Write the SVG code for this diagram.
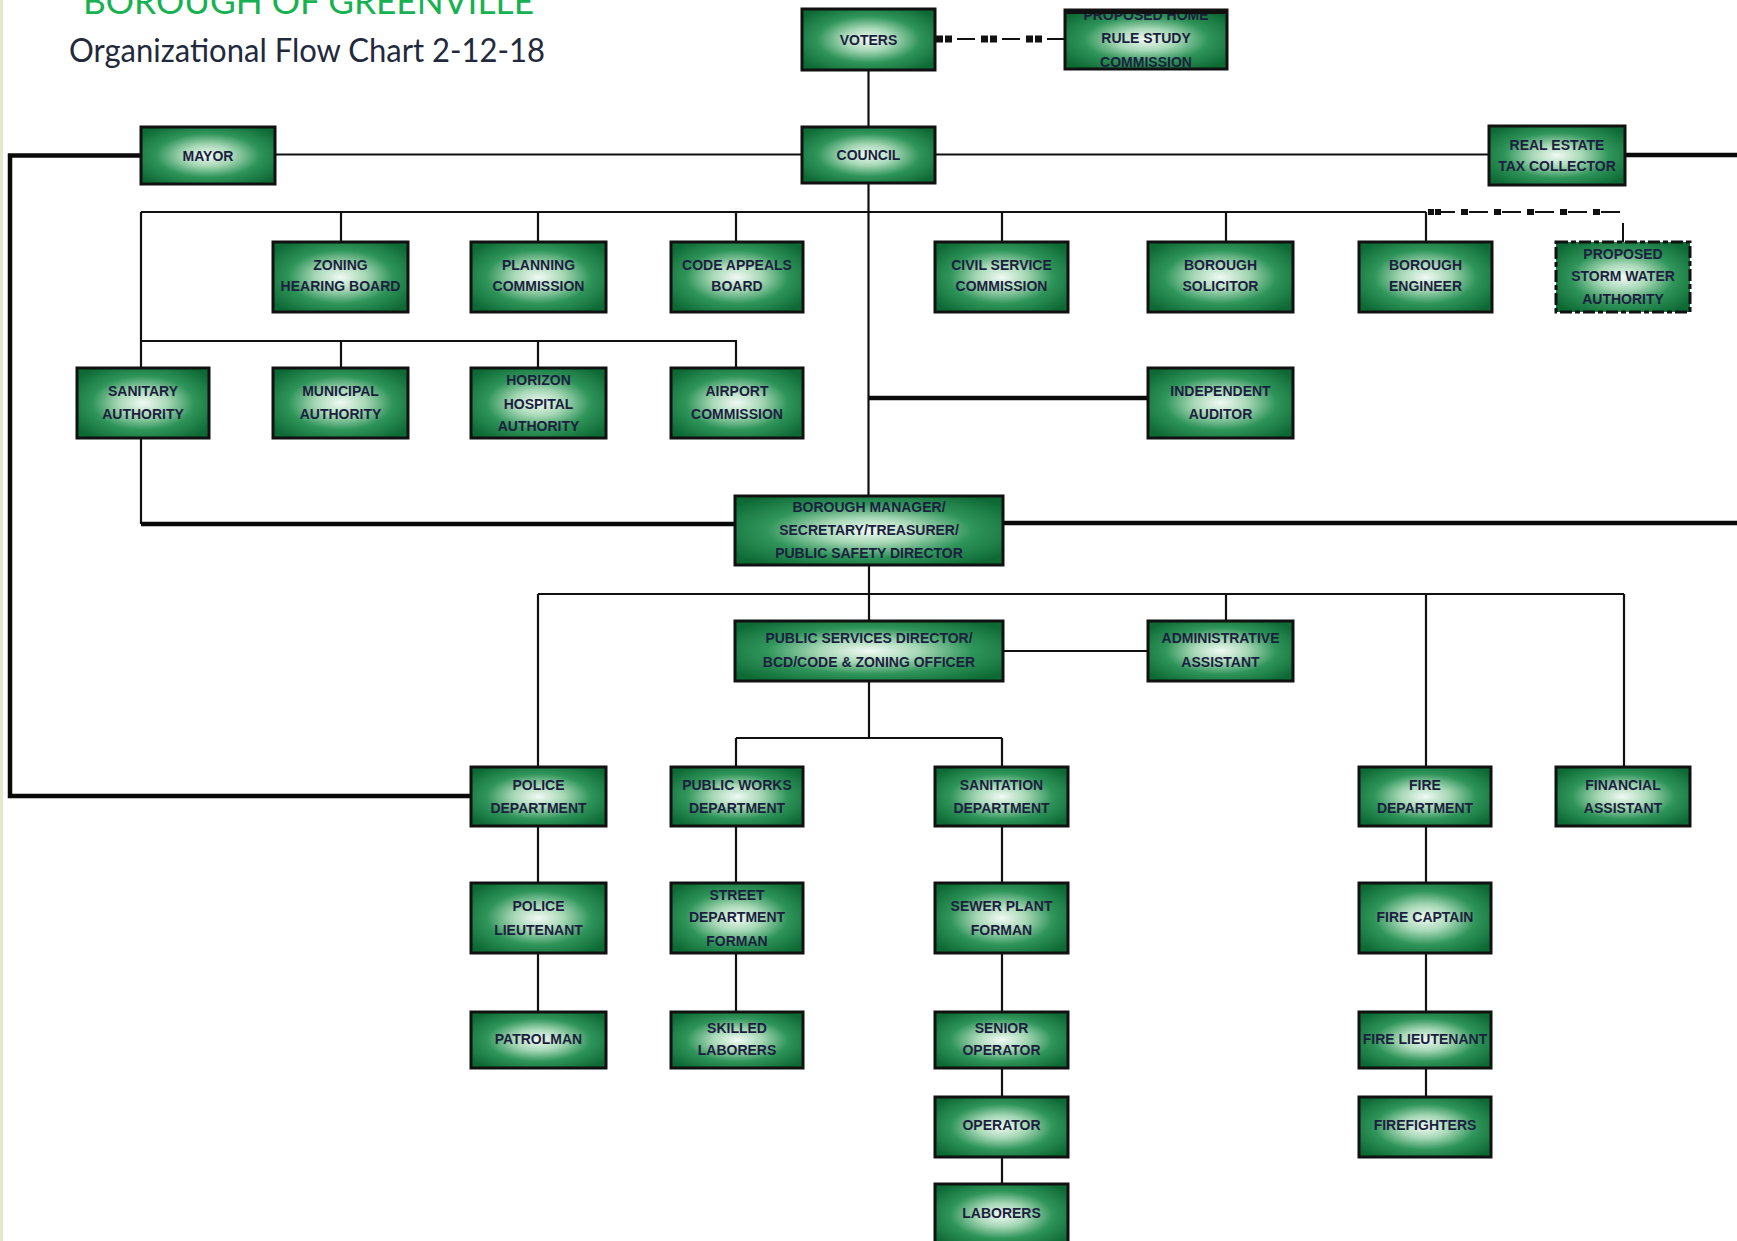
<svg xmlns="http://www.w3.org/2000/svg" width="1737" height="1241" viewBox="0 0 1737 1241">
<style>
.box{fill:url(#gfill);stroke:#111;stroke-width:3}
.t{font-family:"Liberation Sans",Arial,sans-serif;font-weight:bold;font-size:14px;fill:#1c1f3f;text-anchor:middle}
.thin{fill:none;stroke:#111;stroke-width:2.2}
.thick{fill:none;stroke:#0a0a0a;stroke-width:4.5}
.dl{fill:none;stroke:#111;stroke-width:2}
.sq{fill:none;stroke:#111}
</style>
<defs>
<radialGradient id="gfill" cx="0.5" cy="0.5" r="0.62">
<stop offset="0" stop-color="#f1faf4"/>
<stop offset="0.3" stop-color="#a7d8b6"/>
<stop offset="0.62" stop-color="#2f955a"/>
<stop offset="1" stop-color="#0e6a35"/>
</radialGradient>
</defs>
<rect x="0" y="0" width="1737" height="1241" fill="#ffffff"/>
<rect x="0" y="0" width="3" height="1241" fill="#e3e9cc"/>
<g id="title">
<text x="83" y="14" font-family="Lato,'Liberation Sans',sans-serif" font-size="34" fill="#16b150" textLength="451" lengthAdjust="spacingAndGlyphs">BOROUGH OF GREENVILLE</text>
<text x="69" y="62" font-family="Lato,'Liberation Sans',sans-serif" font-size="33" fill="#1f2a3c" textLength="476" lengthAdjust="spacingAndGlyphs">Organizational Flow Chart 2-12-18</text>
</g>
<g id="connectors">
<path class="thin" d="M868.5,70V127M275,154.5H802M935,154.5H1489M868.5,183V496"/>
<path class="thin" d="M141,212H1426M341,212V242M538,212V242M736,212V242M1002,212V242M1226,212V242M1426,212V242"/>
<path class="thin" d="M141,212V368M141,341H737M341,341V368M538,341V368M736,341V368M141,438V524"/>
<path class="thin" d="M869,565V621M538,594H1624M538,594V767M1226,594V621M1426,594V767M1624,594V767M1003,651H1148"/>
<path class="thin" d="M869,681V738M736,738H1002M736,738V767M1002,738V767"/>
<path class="thin" d="M538,826V883M538,953V1012M736,826V883M736,953V1012M1002,826V883M1002,953V1012M1002,1068V1097M1002,1157V1184M1426,826V883M1426,953V1012M1426,1068V1097"/>
<path class="thick" d="M141,155.5H10V796H471"/>
<path class="thick" d="M1625,155H1737M141,524H735M1003,523H1737M869,398H1148"/>
<path class="dl" d="M935,39H1065" style="stroke-dasharray:0 22 18 5"/>
<path class="sq" d="M936,39H1065" style="stroke-width:7;stroke-dasharray:7 2 7 29"/>
<path class="dl" d="M1426,212H1623V242" style="stroke-dasharray:0 10 19 4"/>
<path class="sq" d="M1428,212H1623" style="stroke-width:6;stroke-dasharray:6 1 6 20 7 26 7 26 7 26 7 26 7 26"/>
</g>
<g id="voters"><rect class="box" x="802" y="9" width="133" height="61"/><text class="t" x="868.5" y="44.5">VOTERS</text></g>
<g id="home-rule"><rect class="box" x="1065" y="10" width="162" height="59"/><text class="t" x="1146" y="20">PROPOSED HOME</text><text class="t" x="1146" y="43">RULE STUDY</text><text class="t" x="1146" y="67">COMMISSION</text><path d="M1065,11.5H1227" stroke="#111" stroke-width="5"/></g>
<g id="mayor"><rect class="box" x="141" y="127" width="134" height="57"/><text class="t" x="208" y="160.5">MAYOR</text></g>
<g id="council"><rect class="box" x="802" y="127" width="133" height="56"/><text class="t" x="868.5" y="160">COUNCIL</text></g>
<g id="real-estate"><rect class="box" x="1489" y="126" width="136" height="59"/><text class="t" x="1557" y="150">REAL ESTATE</text><text class="t" x="1557" y="171">TAX COLLECTOR</text></g>
<g id="zoning"><rect class="box" x="273" y="242" width="135" height="70"/><text class="t" x="340.5" y="270">ZONING</text><text class="t" x="340.5" y="291">HEARING BOARD</text></g>
<g id="planning"><rect class="box" x="471" y="242" width="135" height="70"/><text class="t" x="538.5" y="270">PLANNING</text><text class="t" x="538.5" y="291">COMMISSION</text></g>
<g id="code-appeals"><rect class="box" x="671" y="242" width="132" height="70"/><text class="t" x="737" y="270">CODE APPEALS</text><text class="t" x="737" y="291">BOARD</text></g>
<g id="civil-service"><rect class="box" x="935" y="242" width="133" height="70"/><text class="t" x="1001.5" y="270">CIVIL SERVICE</text><text class="t" x="1001.5" y="291">COMMISSION</text></g>
<g id="solicitor"><rect class="box" x="1148" y="242" width="145" height="70"/><text class="t" x="1220.5" y="270">BOROUGH</text><text class="t" x="1220.5" y="291">SOLICITOR</text></g>
<g id="engineer"><rect class="box" x="1359" y="242" width="133" height="70"/><text class="t" x="1425.5" y="270">BOROUGH</text><text class="t" x="1425.5" y="291">ENGINEER</text></g>
<g id="storm-water"><rect class="box" x="1556" y="242" width="134" height="70" style="stroke-dasharray:12 3 5 3"/><text class="t" x="1623" y="259">PROPOSED</text><text class="t" x="1623" y="281">STORM WATER</text><text class="t" x="1623" y="304">AUTHORITY</text></g>
<g id="sanitary"><rect class="box" x="77" y="368" width="132" height="70"/><text class="t" x="143" y="396">SANITARY</text><text class="t" x="143" y="419">AUTHORITY</text></g>
<g id="municipal"><rect class="box" x="273" y="368" width="135" height="70"/><text class="t" x="340.5" y="396">MUNICIPAL</text><text class="t" x="340.5" y="419">AUTHORITY</text></g>
<g id="horizon"><rect class="box" x="471" y="368" width="135" height="70"/><text class="t" x="538.5" y="385">HORIZON</text><text class="t" x="538.5" y="409">HOSPITAL</text><text class="t" x="538.5" y="431">AUTHORITY</text></g>
<g id="airport"><rect class="box" x="671" y="368" width="132" height="70"/><text class="t" x="737" y="396">AIRPORT</text><text class="t" x="737" y="419">COMMISSION</text></g>
<g id="auditor"><rect class="box" x="1148" y="368" width="145" height="70"/><text class="t" x="1220.5" y="396">INDEPENDENT</text><text class="t" x="1220.5" y="419">AUDITOR</text></g>
<g id="borough-manager"><rect class="box" x="735" y="496" width="268" height="69"/><text class="t" x="869" y="512">BOROUGH MANAGER/</text><text class="t" x="869" y="535">SECRETARY/TREASURER/</text><text class="t" x="869" y="558">PUBLIC SAFETY DIRECTOR</text></g>
<g id="public-services"><rect class="box" x="735" y="621" width="268" height="60"/><text class="t" x="869" y="643">PUBLIC SERVICES DIRECTOR/</text><text class="t" x="869" y="667">BCD/CODE &amp; ZONING OFFICER</text></g>
<g id="admin-assistant"><rect class="box" x="1148" y="621" width="145" height="60"/><text class="t" x="1220.5" y="643">ADMINISTRATIVE</text><text class="t" x="1220.5" y="667">ASSISTANT</text></g>
<g id="police-dept"><rect class="box" x="471" y="767" width="135" height="59"/><text class="t" x="538.5" y="790">POLICE</text><text class="t" x="538.5" y="813">DEPARTMENT</text></g>
<g id="public-works"><rect class="box" x="671" y="767" width="132" height="59"/><text class="t" x="737" y="790">PUBLIC WORKS</text><text class="t" x="737" y="813">DEPARTMENT</text></g>
<g id="sanitation"><rect class="box" x="935" y="767" width="133" height="59"/><text class="t" x="1001.5" y="790">SANITATION</text><text class="t" x="1001.5" y="813">DEPARTMENT</text></g>
<g id="fire-dept"><rect class="box" x="1359" y="767" width="132" height="59"/><text class="t" x="1425" y="790">FIRE</text><text class="t" x="1425" y="813">DEPARTMENT</text></g>
<g id="financial"><rect class="box" x="1556" y="767" width="134" height="59"/><text class="t" x="1623" y="790">FINANCIAL</text><text class="t" x="1623" y="813">ASSISTANT</text></g>
<g id="police-lt"><rect class="box" x="471" y="883" width="135" height="70"/><text class="t" x="538.5" y="911">POLICE</text><text class="t" x="538.5" y="935">LIEUTENANT</text></g>
<g id="street"><rect class="box" x="671" y="883" width="132" height="70"/><text class="t" x="737" y="900">STREET</text><text class="t" x="737" y="922">DEPARTMENT</text><text class="t" x="737" y="946">FORMAN</text></g>
<g id="sewer"><rect class="box" x="935" y="883" width="133" height="70"/><text class="t" x="1001.5" y="911">SEWER PLANT</text><text class="t" x="1001.5" y="935">FORMAN</text></g>
<g id="fire-captain"><rect class="box" x="1359" y="883" width="132" height="70"/><text class="t" x="1425" y="922">FIRE CAPTAIN</text></g>
<g id="patrolman"><rect class="box" x="471" y="1012" width="135" height="56"/><text class="t" x="538.5" y="1044">PATROLMAN</text></g>
<g id="skilled"><rect class="box" x="671" y="1012" width="132" height="56"/><text class="t" x="737" y="1033">SKILLED</text><text class="t" x="737" y="1055">LABORERS</text></g>
<g id="senior-operator"><rect class="box" x="935" y="1012" width="133" height="56"/><text class="t" x="1001.5" y="1033">SENIOR</text><text class="t" x="1001.5" y="1055">OPERATOR</text></g>
<g id="fire-lt"><rect class="box" x="1359" y="1012" width="132" height="56"/><text class="t" x="1425" y="1044">FIRE LIEUTENANT</text></g>
<g id="operator"><rect class="box" x="935" y="1097" width="133" height="60"/><text class="t" x="1001.5" y="1130">OPERATOR</text></g>
<g id="firefighters"><rect class="box" x="1359" y="1097" width="132" height="60"/><text class="t" x="1425" y="1130">FIREFIGHTERS</text></g>
<g id="laborers"><rect class="box" x="935" y="1184" width="133" height="62"/><text class="t" x="1001.5" y="1218">LABORERS</text></g>
</svg>
